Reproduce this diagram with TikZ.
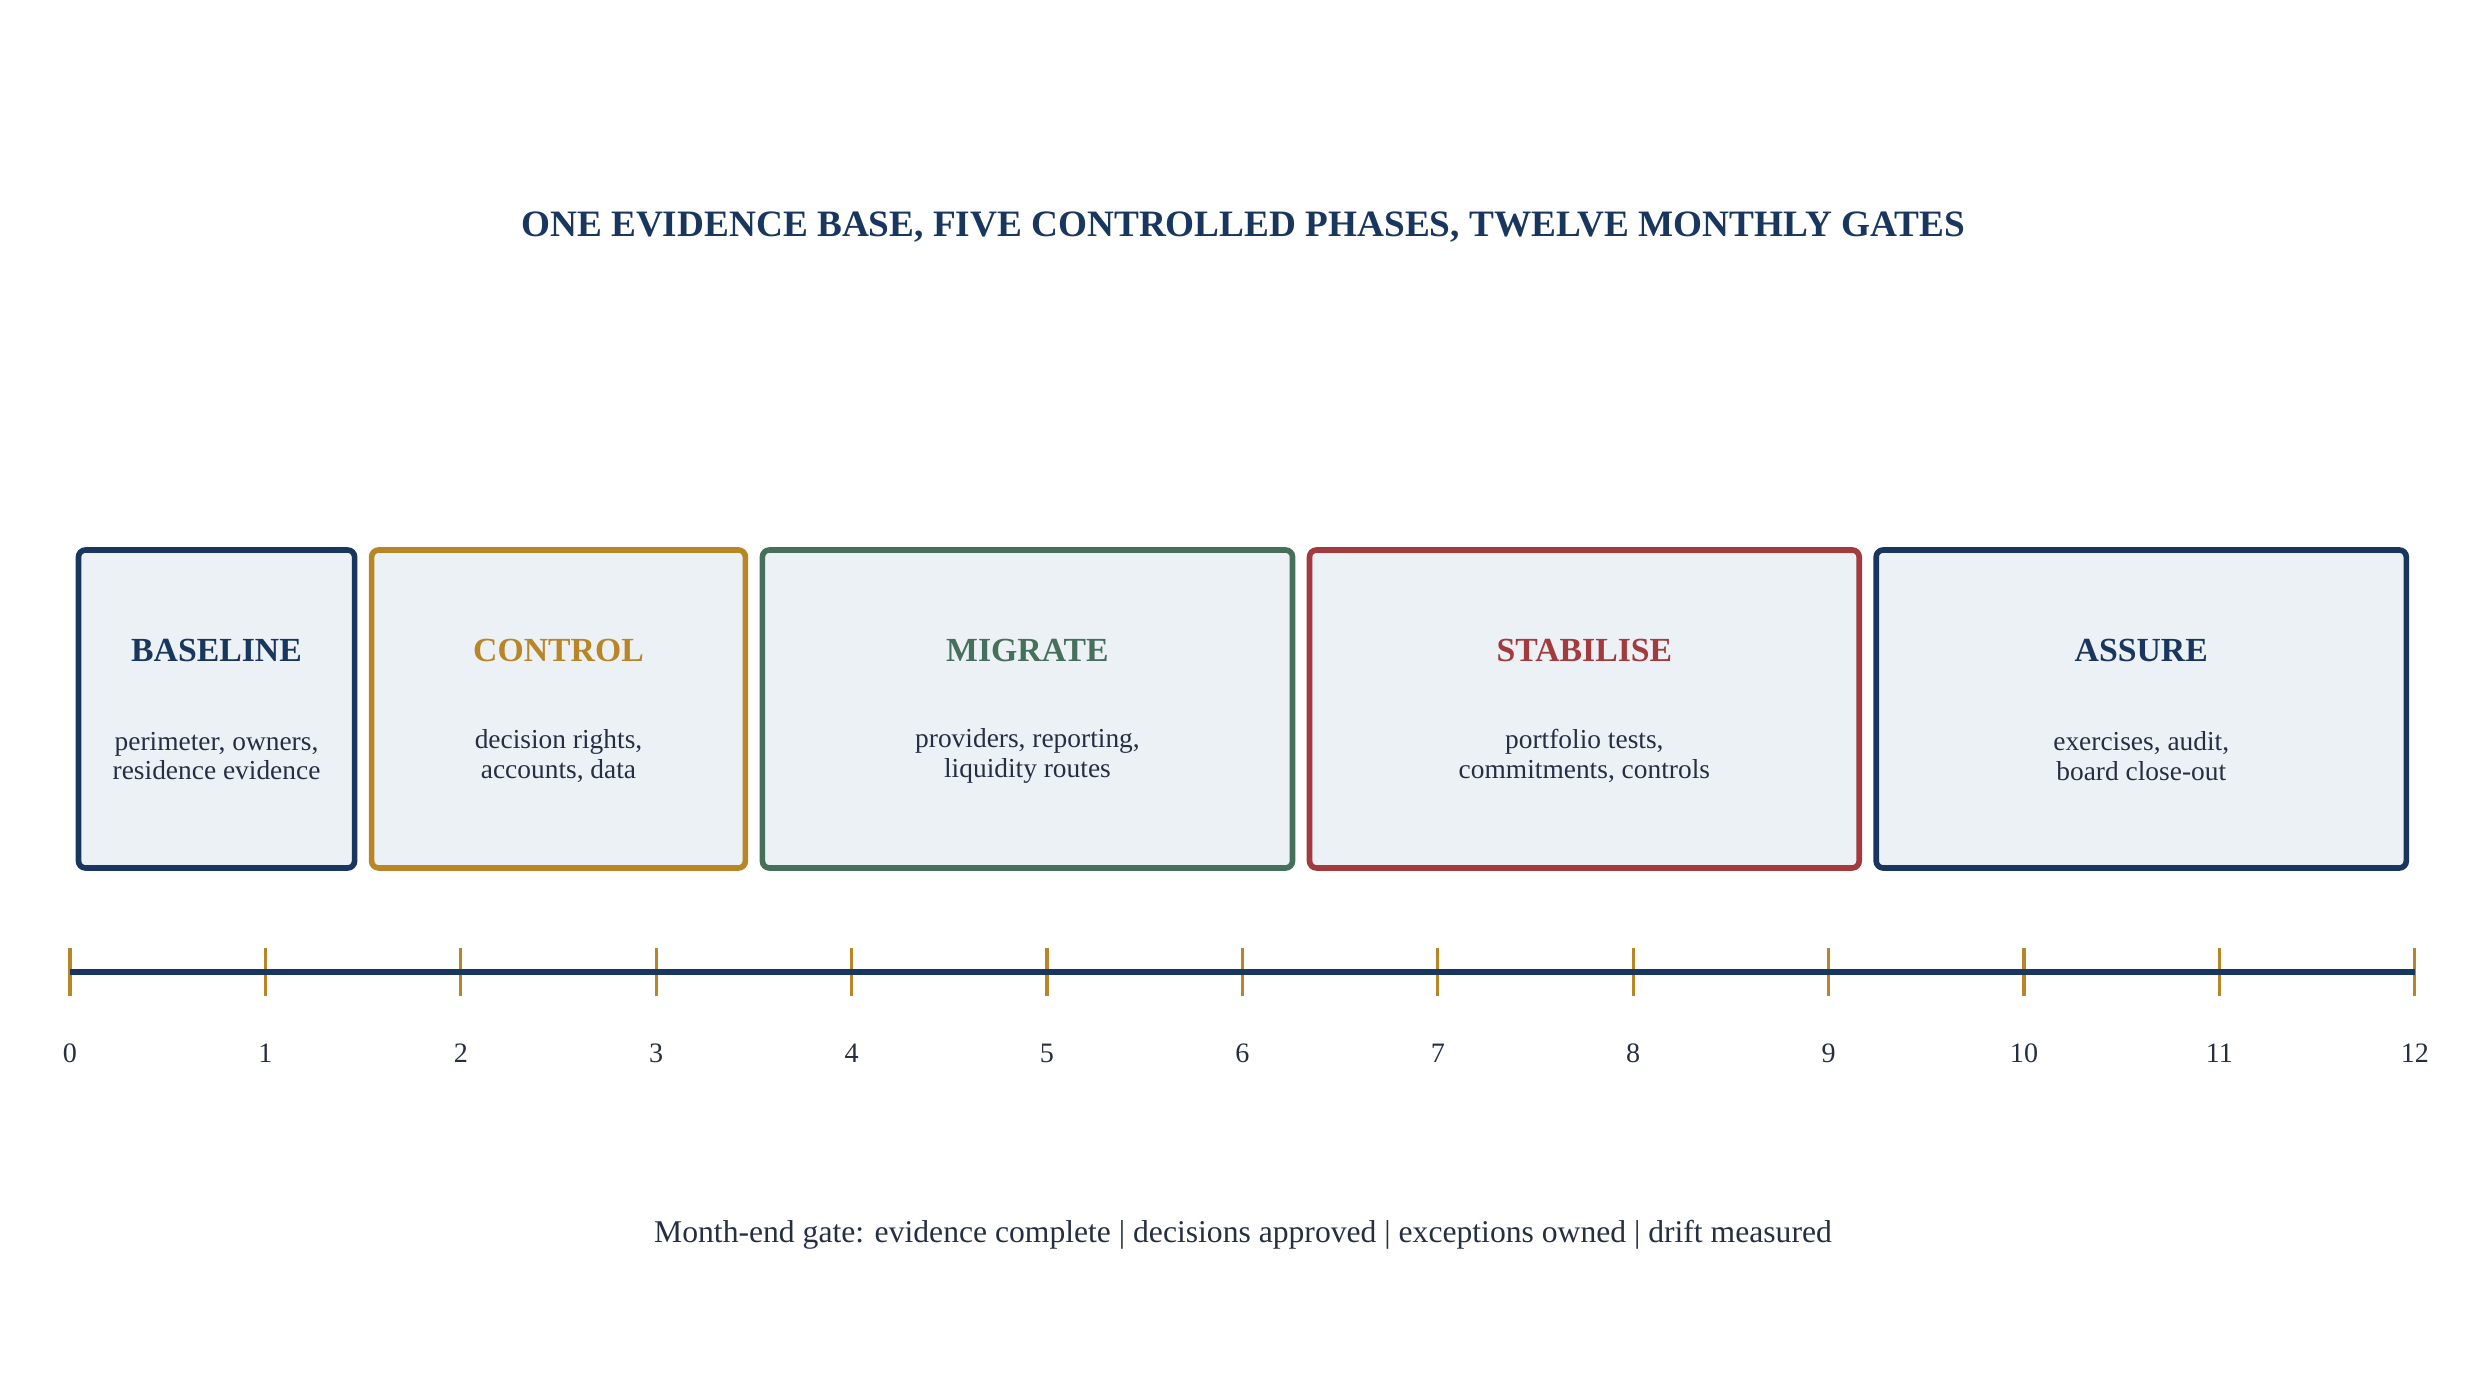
\documentclass[tikz,border=0pt]{standalone}
\usepackage{fontspec}
\setmainfont{Liberation Serif}
\definecolor{navy}{RGB}{24, 54, 94}
\definecolor{gold}{RGB}{184, 134, 38}
\definecolor{sage}{RGB}{70, 112, 92}
\definecolor{brick}{RGB}{162, 58, 62}
\definecolor{mist}{RGB}{236, 241, 245}
\definecolor{ink}{RGB}{38, 46, 66}
\usetikzlibrary{positioning, calc}

\tikzset{
  phasebox/.style={draw=#1, fill=mist, line width=1.6pt, rounded corners=2pt},
  phasename/.style={text=#1, font=\fontsize{9.6}{11}\selectfont\bfseries},
  phasenote/.style={text=ink, align=center, font=\fontsize{7.8}{8.4}\selectfont},
  monthtick/.style={draw=gold, line width=0.9pt},
  monthlabel/.style={text=ink, font=\fontsize{8}{9}\selectfont}
}

\begin{document}
\begin{tikzpicture}[x=1cm, y=1cm]
  \useasboundingbox (0,0) rectangle (24.86,13.86);

  % Title
  \node[text=navy, font=\fontsize{10.6}{12}\selectfont\bfseries] (title) at (12.43, 11.59)
    {ONE EVIDENCE BASE, FIVE CONTROLLED PHASES, TWELVE MONTHLY GATES};

  % Phases: start month / end month
  \foreach \n/\a/\b/\c/\t/\d in {
      base/0/1.5/navy/BASELINE/{perimeter, owners,\\residence evidence},
      ctrl/1.5/3.5/gold/CONTROL/{decision rights,\\accounts, data},
      migr/3.5/6.3/sage/MIGRATE/{providers, reporting,\\liquidity routes},
      stab/6.3/9.2/brick/STABILISE/{portfolio tests,\\commitments, controls},
      assu/9.2/12/navy/ASSURE/{exercises, audit,\\board close-out}} {
    \pgfmathsetmacro\cx{0.7 + 1.954*(\a+\b)/2}
    \pgfmathsetmacro\w{1.954*(\b-\a) - 0.17}
    \node[phasebox=\c, minimum width=\w cm, minimum height=3.18cm] (\n) at (\cx, 6.77) {};
    \node[phasename=\c] (\n-name) at (\cx, 7.35) {\t};
    \node[phasenote] (\n-note) at (\cx, 6.3) {\d};
  }

  % Month gates
  \foreach \m in {0,...,12} {
    \coordinate (g\m) at (0.7 + 1.954*\m, 4.14);
    \draw[monthtick] ($(g\m)+(0,0.24)$) -- ($(g\m)+(0,-0.24)$);
    \node[monthlabel] (m\m) at (0.7 + 1.954*\m, 3.33) {\m};
  }
  \draw[navy, line width=1.7pt] (g0) -- (g12);

  % Gate rule
  \node[text=ink, font=\fontsize{9}{10}\selectfont] (rule) at (12.43, 1.51)
    {Month-end gate: evidence complete | decisions approved | exceptions owned | drift measured};
\end{tikzpicture}
\end{document}
